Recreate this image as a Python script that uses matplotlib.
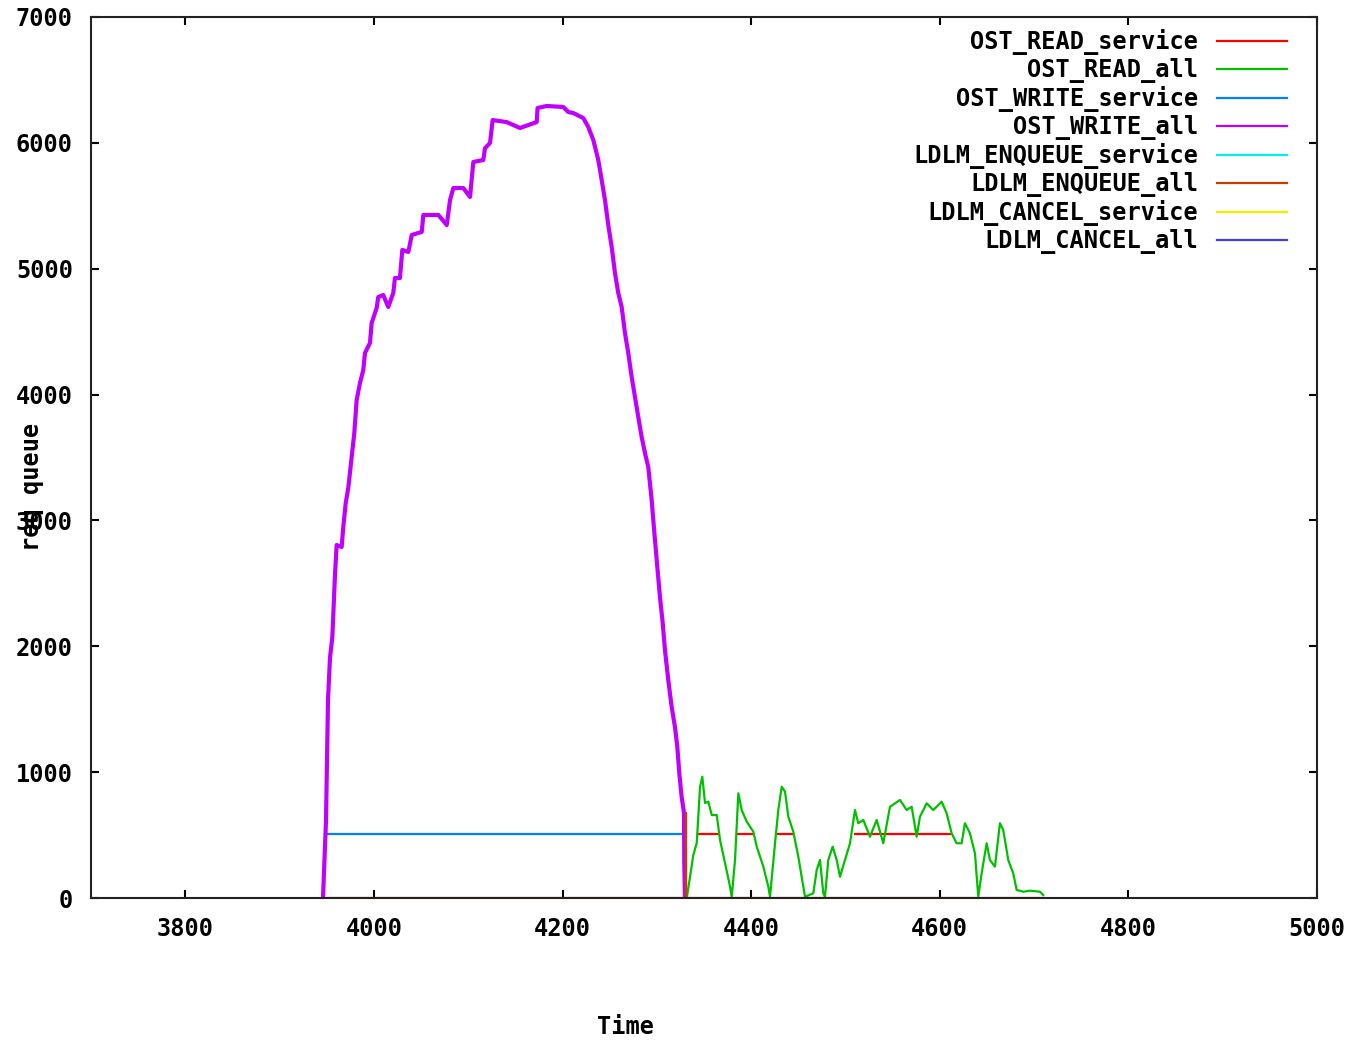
import numpy as np
import matplotlib
matplotlib.use("Agg")
import matplotlib.pyplot as plt

nan = np.nan

# OST_WRITE_all (purple)
write_all_t = [3946.0, 3949.2, 3951.3, 3953.4, 3955.9, 3958.7, 3960.5, 3965.8, 3967.5, 3970.1,
               3972.8, 3976.4, 3979.2, 3981.7, 3985.2, 3988.7, 3990.5, 3995.8, 3997.6, 4002.9,
               4004.6, 4009.9, 4015.2, 4020.5, 4022.3, 4027.6, 4030.1, 4036.5, 4040.1, 4050.7,
               4052.4, 4068.3, 4077.2, 4080.7, 4084.2, 4094.8, 4101.9, 4105.4, 4116.0, 4117.8,
               4123.1, 4125.9, 4140.8, 4154.9, 4172.6, 4173.5, 4183.2, 4200.8, 4206.1, 4211.4,
               4222.0, 4227.3, 4232.6, 4237.9, 4241.5, 4245.0, 4248.5, 4252.1, 4255.6, 4259.1,
               4262.7, 4266.2, 4269.7, 4273.3, 4276.8, 4280.3, 4283.9, 4287.4, 4290.9, 4294.5,
               4295.6, 4298.0, 4300.5, 4303.3, 4306.2, 4308.6, 4312.1, 4315.7, 4319.2, 4321.7,
               4323.8, 4326.3, 4328.8, 4329.1, 4329.8]
write_all_v = [0, 620, 1573, 1907, 2074, 2566, 2805, 2789, 2948, 3138,
               3258, 3504, 3695, 3957, 4092, 4195, 4330, 4410, 4569, 4688,
               4775, 4791, 4696, 4807, 4926, 4926, 5149, 5133, 5268, 5292,
               5427, 5427, 5347, 5546, 5641, 5641, 5570, 5848, 5864, 5958,
               5999, 6181, 6165, 6118, 6165, 6277, 6293, 6285, 6245, 6237,
               6197, 6126, 6023, 5864, 5705, 5546, 5347, 5173, 4966, 4807,
               4696, 4489, 4330, 4140, 3981, 3822, 3663, 3536, 3424, 3162,
               3059, 2845, 2630, 2392, 2185, 1971, 1732, 1518, 1359, 1200,
               993, 802, 675, 278, 0]

# OST_READ_all (green)
read_all_t = [4331.7, 4335.2, 4338.7, 4342.3, 4345.8, 4348.2, 4351.1, 4354.6, 4358.2, 4363.5,
              4367.0, 4372.3, 4377.6, 4379.4, 4382.9, 4386.4, 4390.0, 4395.3, 4402.3, 4405.9,
              4412.9, 4418.2, 4420.0, 4425.3, 4428.8, 4432.4, 4435.9, 4439.4, 4444.7, 4450.0,
              4455.3, 4457.1, 4465.9, 4469.5, 4473.0, 4476.5, 4478.3, 4481.8, 4486.4, 4490.7,
              4494.2, 4499.5, 4504.8, 4510.1, 4513.6, 4518.9, 4526.0, 4533.1, 4540.1, 4547.2,
              4557.8, 4564.9, 4570.2, 4575.5, 4579.0, 4586.1, 4593.1, 4602.0, 4607.3, 4612.6,
              4617.9, 4623.2, 4626.7, 4632.0, 4637.3, 4640.8, 4644.4, 4649.7, 4653.2, 4658.5,
              4663.8, 4667.3, 4672.6, 4677.9, 4681.5, 4688.5, 4695.6, 4706.2, 4709.7]
read_all_v = [0, 169, 342, 437, 884, 964, 755, 765, 659, 659,
              461, 278, 90, 10, 302, 832, 699, 606, 527, 408,
              249, 90, 10, 435, 699, 884, 845, 646, 527, 328,
              90, 10, 37, 222, 302, 37, 10, 302, 408, 302,
              169, 302, 435, 699, 594, 620, 487, 620, 435, 725,
              779, 699, 725, 487, 646, 752, 699, 765, 673, 514,
              435, 435, 594, 514, 355, 10, 196, 435, 302, 249,
              594, 540, 302, 196, 64, 50, 58, 50, 24]

# OST_READ_service (red), gaps where nothing was drawn
read_srv_t = [4343.6, 4364.8, nan, 4385.0, 4402.0, nan, 4428.5, 4444.4, nan, 4510.0, 4611.0]
read_srv_v = [512, 512, nan, 512, 512, nan, 512, 512, nan, 512, 512]

# OST_WRITE_service (blue)
write_srv_t = [3949.0, 4327.0]
write_srv_v = [512, 512]

# LDLM_ENQUEUE_all (brown)
enq_all_t = [3946.0, 4331.0, 4331.0, 4331.0, 4710.0]
enq_all_v = [0, 0, 675, 0, 0]

# series with nothing visible
enq_srv_t, enq_srv_v = [4710.0], [0]
cancel_srv_t, cancel_srv_v = [4710.0], [0]
cancel_all_t, cancel_all_v = [4710.0], [0]

labels = ["OST_READ_service", "OST_READ_all", "OST_WRITE_service", "OST_WRITE_all",
          "LDLM_ENQUEUE_service", "LDLM_ENQUEUE_all", "LDLM_CANCEL_service", "LDLM_CANCEL_all"]
colors = ["#ff0000", "#00c000", "#0080ff", "#c000ff", "#00eeee", "#c04000", "#eeee00", "#4040e0"]

series = [(read_srv_t, read_srv_v), (read_all_t, read_all_v), (write_srv_t, write_srv_v),
          (write_all_t, write_all_v), (enq_srv_t, enq_srv_v), (enq_all_t, enq_all_v),
          (cancel_srv_t, cancel_srv_v), (cancel_all_t, cancel_all_v)]

plt.rcParams['font.family'] = ['DejaVu Sans Mono']
plt.rcParams['font.weight'] = 'bold'

fig = plt.figure(figsize=(13.62, 10.40), dpi=100)
ax = fig.add_axes([91 / 1362, 1 - 898 / 1040, (1317 - 91) / 1362, (898 - 17) / 1040])

for (t, v), lab, c in zip(series, labels, colors):
    lw = 3.0 if lab == "OST_WRITE_all" else 1.6
    ax.plot(t, v, color=c, linewidth=lw, label=lab)

ax.set_xlim(3700, 5000)
ax.set_ylim(0, 7000)
ax.set_xticks(np.arange(3800, 5001, 200))
ax.set_yticks(np.arange(0, 7001, 1000))
ax.tick_params(direction='in', length=6, width=1.5, top=True, right=True,
               labelsize=17, colors='black')
ax.tick_params(axis='x', pad=14)
ax.tick_params(axis='y', pad=13)
for lab in ax.get_xticklabels() + ax.get_yticklabels():
    lab.set_fontweight('bold')
for s in ax.spines.values():
    s.set_linewidth(1.5)
    s.set_color('#222222')

leg = ax.legend(loc='upper right', bbox_to_anchor=(1287 / 1362, 1 - 29 / 1040),
                bbox_transform=fig.transFigure, frameon=False, markerfirst=False,
                handlelength=2.95, handletextpad=0.8, labelspacing=0.13, borderpad=0,
                borderaxespad=0, prop={'family': 'DejaVu Sans Mono', 'weight': 'bold', 'size': 17})
for line in leg.get_lines():
    line.set_linewidth(1.6)

fig.text(32 / 1362, 1 - 487 / 1040, "req queue", rotation=90, ha='center', va='center',
         fontsize=17, fontweight='bold')
fig.text(626 / 1362, 1 - 1027 / 1040, "Time", ha='center', va='center',
         fontsize=17, fontweight='bold')

fig.savefig("out.png", dpi=100)
